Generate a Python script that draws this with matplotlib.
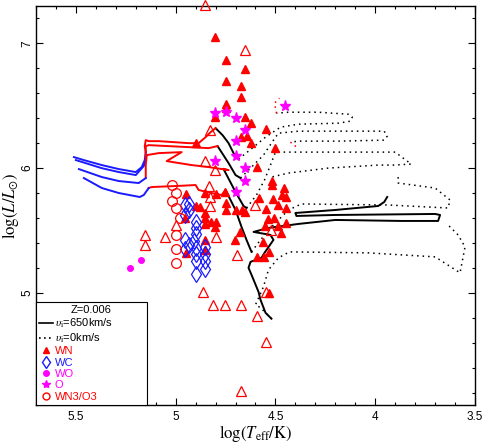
import matplotlib
matplotlib.use("Agg")
import matplotlib.pyplot as plt
from matplotlib.lines import Line2D
from matplotlib.ticker import MultipleLocator

plt.rcParams["mathtext.fontset"] = "stix"
plt.rcParams["font.family"] = ["Liberation Sans", "DejaVu Sans"]

RED = "#ff0000"
BLUE = "#1a1aff"
MAG = "#ff00ff"

# ---- observed stars (logTeff, logL) ----
wn_T = [4.802, 4.749, 4.655, 4.749, 4.674, 4.674, 4.749, 4.749, 4.802, 4.655,
        4.625, 4.90, 4.675, 4.645, 4.621, 4.545, 4.501, 4.593, 4.518, 4.515,
        4.455, 4.468, 4.448, 4.51, 4.581, 4.485, 4.448, 4.549, 4.668, 4.538,
        4.505, 4.448, 4.551, 4.485, 4.471, 4.701, 4.593, 4.555, 4.53, 4.56,
        4.531, 4.676, 4.948, 4.852, 4.798, 4.877, 4.855, 4.852, 4.825, 4.855,
        4.798, 4.805, 4.755, 4.749, 4.749, 4.699, 4.852, 4.948, 4.952, 4.898,
        4.855, 4.655]
wn_L = [7.050, 6.870, 6.792, 6.696, 6.662, 6.570, 6.510, 6.478, 6.406, 6.406,
        6.358, 6.202, 6.250, 6.256, 6.202, 6.310, 6.158, 6.008, 5.898, 5.864,
        5.838, 5.784, 5.768, 5.750, 5.758, 5.704, 5.678, 5.670, 5.664, 5.590,
        5.598, 5.562, 5.536, 5.536, 5.478, 5.424, 5.290, 5.290, 5.330, 5.410,
        4.998, 5.490, 5.792, 5.802, 5.792, 5.690, 5.638, 5.600, 5.568, 5.552,
        5.570, 5.528, 5.810, 5.722, 5.664, 5.664, 5.424, 5.318, 5.600, 5.696,
        5.344, 5.648]

wnh_T = [4.852, 4.655, 4.83, 4.853, 4.802, 4.832, 4.828, 4.828, 4.605, 4.521,
         4.694, 5.152, 5.152, 5.052, 5.0, 4.798, 4.865, 4.815, 4.755, 4.671,
         4.546, 4.593, 4.546, 4.675]
wnh_L = [7.304, 6.950, 6.304, 6.058, 5.984, 5.856, 5.766, 5.696, 5.704, 5.504,
         5.304, 5.460, 5.380, 5.450, 5.544, 5.450, 5.010, 4.904, 4.904, 4.904,
         5.010, 4.810, 4.602, 4.210]

wc_T = [4.955, 4.935, 4.955, 4.90, 4.90, 4.90, 4.952, 4.935, 4.952, 4.91,
        4.90, 4.90, 4.90, 4.852, 4.852, 4.852, 4.852, 4.90, 4.935]
wc_L = [5.704, 5.664, 5.624, 5.568, 5.52, 5.472, 5.424, 5.384, 5.352, 5.416,
        5.36, 5.312, 5.256, 5.368, 5.312, 5.256, 5.192, 5.152, 5.712]

wo_T = [5.176, 5.231]
wo_L = [5.264, 5.202]

o_T = [4.802, 4.749, 4.70, 4.452, 4.655, 4.70, 4.802, 4.70, 4.655, 4.655, 4.70]
o_L = [6.442, 6.450, 6.398, 6.496, 6.304, 6.216, 6.060, 6.096, 6.000, 5.896, 5.808]

wn3_T = [5.02, 5.0, 5.02, 5.0, 4.976, 5.0, 5.0, 5.0]
wn3_L = [5.864, 5.80, 5.736, 5.68, 5.60, 5.464, 5.352, 5.24]

# ---- rotating tracks (v_i = 650 km/s): black = O, red = WN, blue = WC ----
rot_tracks = [
    {"black": ([4.685, 4.705, 4.735, 4.765, 4.80], [6.072, 6.104, 6.20, 6.264, 6.32]),
     "red": ([4.80, 4.825, 4.85, 4.885, 4.935, 5.01, 5.085, 5.135, 5.15, 5.155, 5.15],
             [6.32, 6.288, 6.248, 6.20, 6.20, 6.208, 6.216, 6.216, 6.224, 6.176, 6.128]),
     "blue": ([5.15, 5.155, 5.17, 5.20, 5.285, 5.37, 5.46, 5.51],
              [6.128, 6.064, 6.008, 5.968, 5.992, 6.024, 6.064, 6.088])},
    {"black": ([4.675, 4.70, 4.735, 4.79], [5.92, 5.944, 6.04, 6.176]),
     "red": ([4.79, 4.835, 4.935, 5.035, 5.135, 5.15, 5.15],
             [6.176, 6.16, 6.168, 6.176, 6.184, 6.176, 6.064]),
     "blue": ([5.15, 5.16, 5.20, 5.285, 5.37, 5.50],
              [6.064, 6.016, 5.944, 5.968, 5.999, 6.064])},
    {"black": ([4.645, 4.66, 4.70, 4.76], [5.68, 5.696, 5.808, 5.992]),
     "red": ([4.76, 4.735, 4.835, 4.92, 5.045, 4.97, 5.085, 5.145, 5.15, 5.15],
             [5.992, 5.984, 6.008, 6.024, 6.056, 6.128, 6.12, 6.104, 6.024, 5.92]),
     "blue": ([5.15, 5.185, 5.285, 5.37, 5.485], [5.92, 5.88, 5.896, 5.928, 5.992])},
    {"black": ([4.62, 4.645, 4.67, 4.70, 4.75], [5.328, 5.424, 5.528, 5.664, 5.824]),
     "red": ([4.75, 4.77, 4.82, 4.885, 4.90, 5.0, 5.12, 5.135],
             [5.824, 5.784, 5.80, 5.824, 5.864, 5.856, 5.848, 5.84]),
     "blue": ([5.135, 5.16, 5.18, 5.285, 5.37, 5.46], [5.84, 5.784, 5.768, 5.80, 5.84, 5.92])},
    {"black": ([4.52, 4.535, 4.55, 4.575, 4.585, 4.62, 4.635, 4.625, 4.57, 4.555, 4.51,
                4.525, 4.61, 4.535, 4.385, 4.20, 3.87, 3.685, 3.675, 3.70, 4.20, 4.395,
                4.40, 4.20, 3.985, 3.955, 3.94],
               [4.792, 4.816, 4.84, 4.944, 5.008, 5.144, 5.20, 5.248, 5.28, 5.32, 5.424,
                5.464, 5.488, 5.52, 5.552, 5.584, 5.576, 5.576, 5.624, 5.632, 5.624, 5.616,
                5.64, 5.664, 5.696, 5.728, 5.768])},
]

# ---- non-rotating tracks (v_i = 0): black dotted, red dotted = WN ----
norot_tracks = [
    {"black": ([4.685, 4.61, 4.55, 4.475, 4.385, 4.185, 4.125, 4.115, 4.135, 4.285, 4.435, 4.495],
               [6.072, 6.168, 6.248, 6.328, 6.352, 6.36, 6.376, 6.408, 6.432, 6.448, 6.448, 6.44]),
     "red": ([4.495, 4.505, 4.48], [6.44, 6.52, 6.56])},
    {"black": ([4.675, 4.61, 4.56, 4.51, 4.485, 4.385, 4.135, 3.955, 3.94, 3.955, 4.185, 4.385, 4.425],
               [5.92, 6.024, 6.104, 6.224, 6.28, 6.296, 6.296, 6.296, 6.256, 6.224, 6.216, 6.216, 6.208]),
     "red": ([4.425, 4.40, 4.385], [6.208, 6.176, 6.16])},
    {"black": ([4.645, 4.595, 4.555, 4.525, 4.50, 4.285, 3.90, 3.86, 3.82, 3.91, 3.985, 4.235, 4.435, 4.52],
               [5.68, 5.784, 5.904, 6.024, 6.128, 6.128, 6.128, 6.08, 6.032, 6.024, 6.024, 6.0, 5.96, 5.928])},
    {"black": ([4.62, 4.575, 4.51, 4.435, 4.37, 3.935, 3.635, 3.625, 3.70, 3.885, 3.885],
               [5.328, 5.424, 5.544, 5.664, 5.712, 5.704, 5.68, 5.744, 5.84, 5.88, 5.928])},
    {"black": ([4.52, 4.575, 4.60, 4.56, 4.535, 4.485, 4.43, 4.035, 3.70, 3.575, 3.55, 3.585, 3.635],
               [4.792, 4.88, 4.904, 5.048, 5.184, 5.28, 5.328, 5.32, 5.288, 5.16, 5.368, 5.464, 5.544])},
]

fig = plt.figure(figsize=(4.85, 4.43), dpi=100)
ax = fig.add_axes([0.0742, 0.0858, 0.9052, 0.9007])

colors = {"black": "black", "red": RED, "blue": BLUE}
for tr in norot_tracks:
    for key, (xs, ys) in tr.items():
        ax.plot(xs, ys, color=colors[key], lw=1.1, ls=(0, (1, 2.6)), zorder=2)
for tr in rot_tracks:
    for key, (xs, ys) in tr.items():
        ax.plot(xs, ys, color=colors[key], lw=1.4, ls="-", zorder=3)

ax.plot(wn_T, wn_L, ls="none", marker="^", ms=5.5, mfc=RED, mec=RED, zorder=4)
ax.plot(wnh_T, wnh_L, ls="none", marker="^", ms=6.5, mfc="none", mec=RED, mew=0.9,
        zorder=4, clip_on=False)
ax.plot(wc_T, wc_L, ls="none", marker="d", ms=8, mfc="none", mec=BLUE, mew=0.9, zorder=4)
ax.plot(wo_T, wo_L, ls="none", marker="o", ms=4, mfc=MAG, mec=MAG, zorder=4)
ax.plot(o_T, o_L, ls="none", marker="*", ms=8, mfc=MAG, mec=MAG, zorder=5)
ax.plot(wn3_T, wn3_L, ls="none", marker="o", ms=7, mfc="none", mec=RED, mew=0.9, zorder=4)

ax.set_xlim(5.7, 3.5)
ax.set_ylim(4.1, 7.3)
ax.xaxis.set_minor_locator(MultipleLocator(0.1))
ax.yaxis.set_minor_locator(MultipleLocator(0.2))
ax.set_xticks([5.5, 5, 4.5, 4, 3.5])
ax.set_xticklabels(["5.5", "5", "4.5", "4", "3.5"])
ax.set_yticks([5, 6, 7])
ax.set_yticklabels(["5", "6", "7"], rotation=90, va="center")
ax.tick_params(which="both", direction="in", top=True, right=True, labelsize=8.5)
ax.tick_params(which="major", length=5, width=0.8, pad=4)
ax.tick_params(axis="y", which="major", pad=2)
ax.tick_params(which="minor", length=2.5, width=0.8)
for s in ax.spines.values():
    s.set_linewidth(1.0)

ax.set_xlabel(r"$\log(T_{\rm eff}/{\rm K})$", fontsize=12, labelpad=0)
ax.set_ylabel(r"$\log(L/L_{\odot})$", fontsize=12, labelpad=0)

handles = [
    Line2D([], [], color="black", lw=1.2),
    Line2D([], [], color="black", lw=1.2, ls=(0, (1, 2))),
    Line2D([], [], ls="none", marker="^", ms=5, mfc=RED, mec=RED),
    Line2D([], [], ls="none", marker="d", ms=6, mfc="none", mec=BLUE),
    Line2D([], [], ls="none", marker="o", ms=4, mfc=MAG, mec=MAG),
    Line2D([], [], ls="none", marker="*", ms=6, mfc=MAG, mec=MAG),
    Line2D([], [], ls="none", marker="o", ms=5, mfc="none", mec=RED),
]
labels = [r"$\upsilon_{\rm i}$=650km/s", r"$\upsilon_{\rm i}$=0km/s", "WN", "WC", "WO", "O", "WN3/O3"]
leg = ax.legend(handles, labels, loc="lower left", bbox_to_anchor=(0, 0, 0.253, 0.3),
                mode="expand", borderaxespad=0, fancybox=False,
                edgecolor="black", framealpha=1, fontsize=8, title="Z=0.006",
                title_fontsize=8, handlelength=1.2, handletextpad=0.2,
                labelspacing=0.12, borderpad=0.3,
                labelcolor=["black", "black", RED, BLUE, MAG, MAG, RED])
leg.get_frame().set_linewidth(0.8)
leg.set_zorder(10)

fig.savefig("out.png", dpi=100)
